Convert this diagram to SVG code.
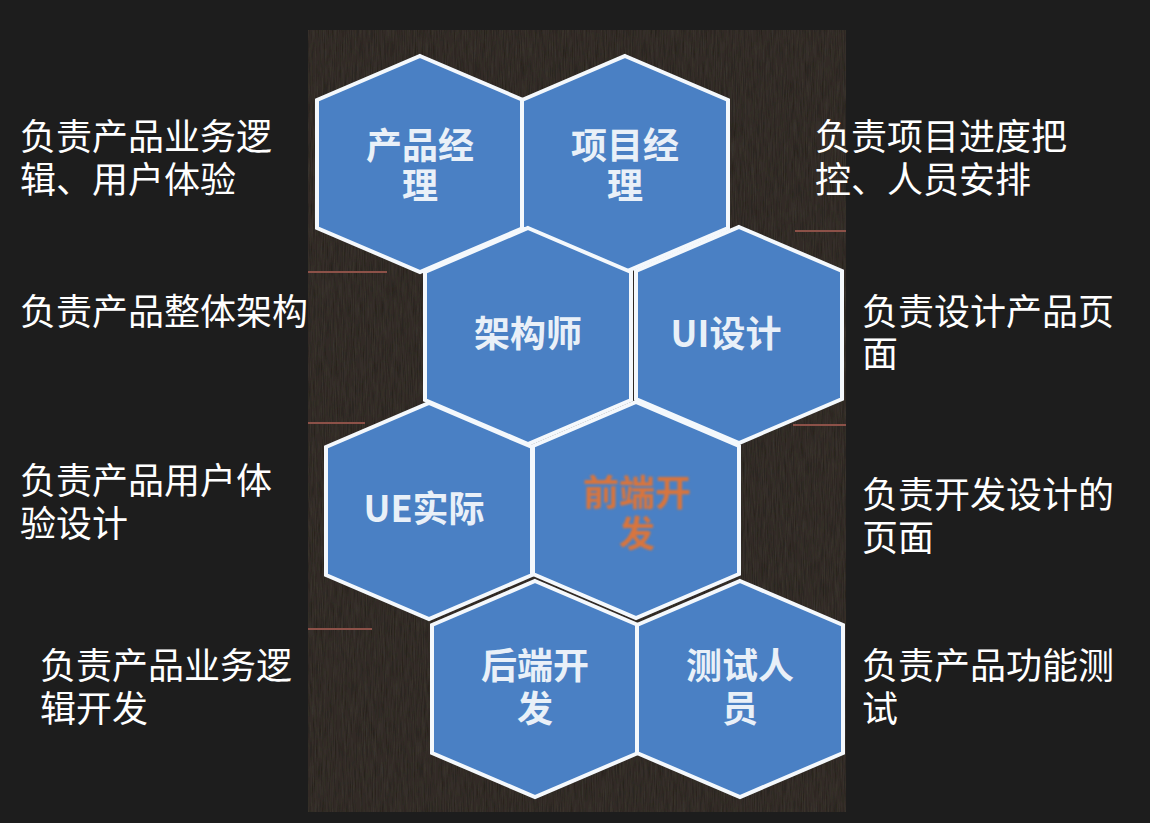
<svg xmlns="http://www.w3.org/2000/svg" width="1150" height="823" viewBox="0 0 1150 823">
<defs>
<style>
.hex{fill:#4a80c4;stroke:#f4f8fc;stroke-width:4;stroke-linejoin:miter}
.ht{font-family:"Noto Sans CJK SC","Noto Sans",sans-serif;font-weight:bold;font-size:36px;fill:#e9f0f8;text-anchor:middle}
.hto{fill:#d8753c}
.st{font-family:"Liberation Serif","Noto Sans CJK SC",serif;font-size:36px;fill:#ffffff}
.red{stroke:#8c5148;stroke-width:2}
</style>
<polygon id="hx" points="0,-108 103,-64 103,64 0,108 -103,64 -103,-64"/>
<filter id="blur" x="-10%" y="-10%" width="120%" height="120%"><feGaussianBlur stdDeviation="0.9"/></filter>
<filter id="tex" x="0" y="0" width="100%" height="100%">
<feTurbulence type="fractalNoise" baseFrequency="0.9 0.05" numOctaves="2" seed="3" result="n"/>
<feColorMatrix in="n" type="matrix" values="0 0 0 0 0.12  0 0 0 0 0.1  0 0 0 0 0.09  0 0 0 0.25 0" result="c"/>
<feComposite in="c" in2="SourceGraphic" operator="in" result="m"/>
<feMerge><feMergeNode in="SourceGraphic"/><feMergeNode in="m"/></feMerge>
</filter>
</defs>
<rect x="0" y="0" width="1150" height="823" fill="#1d1d1d"/>
<g id="picture">
<rect x="308" y="30" width="538" height="782" fill="#28231f" filter="url(#tex)"/>
<line class="red" x1="308" y1="272" x2="387" y2="272"/>
<line class="red" x1="308" y1="423" x2="365" y2="423"/>
<line class="red" x1="308" y1="629" x2="372" y2="629"/>
<line class="red" x1="795" y1="231" x2="846" y2="231"/>
<line class="red" x1="793" y1="425" x2="846" y2="425"/>
</g>
<g id="connectors"></g>
<g id="node-pm">
<use href="#hx" class="hex" x="420" y="164"/>
<text class="ht" x="420" y="159">产品经</text>
<text class="ht" x="420" y="199">理</text>
</g>
<g id="node-prm">
<use href="#hx" class="hex" x="625" y="164"/>
<text class="ht" x="625" y="159">项目经</text>
<text class="ht" x="625" y="199">理</text>
</g>
<g id="node-arch">
<use href="#hx" class="hex" x="528" y="336"/>
<text class="ht" x="528" y="347">架构师</text>
</g>
<g id="node-ui">
<use href="#hx" class="hex" x="739" y="335"/>
<text class="ht" x="726" y="347">UI设计</text>
</g>
<g id="node-ue">
<use href="#hx" class="hex" x="429" y="511"/>
<text class="ht" x="424" y="522">UE实际</text>
</g>
<g id="node-fe">
<use href="#hx" class="hex" x="636" y="510"/>
<g filter="url(#blur)">
<text class="ht hto" x="637" y="506">前端开</text>
<text class="ht hto" x="637" y="547">发</text>
</g>
</g>
<g id="node-be">
<use href="#hx" class="hex" x="535" y="689"/>
<text class="ht" x="535" y="679">后端开</text>
<text class="ht" x="535" y="722">发</text>
</g>
<g id="node-qa">
<use href="#hx" class="hex" x="740" y="689"/>
<text class="ht" x="740" y="679">测试人</text>
<text class="ht" x="740" y="722">员</text>
</g>
<g id="desc-left">
<text class="st" x="20" y="150">负责产品业务逻</text>
<text class="st" x="20" y="193">辑、用户体验</text>
<text class="st" x="20" y="325">负责产品整体架构</text>
<text class="st" x="20" y="494">负责产品用户体</text>
<text class="st" x="20" y="537">验设计</text>
<text class="st" x="40" y="679">负责产品业务逻</text>
<text class="st" x="40" y="722">辑开发</text>
</g>
<g id="desc-right">
<text class="st" x="815" y="150">负责项目进度把</text>
<text class="st" x="815" y="193">控、人员安排</text>
<text class="st" x="862" y="325">负责设计产品页</text>
<text class="st" x="862" y="367">面</text>
<text class="st" x="862" y="508">负责开发设计的</text>
<text class="st" x="862" y="551">页面</text>
<text class="st" x="862" y="679">负责产品功能测</text>
<text class="st" x="862" y="722">试</text>
</g>
</svg>
